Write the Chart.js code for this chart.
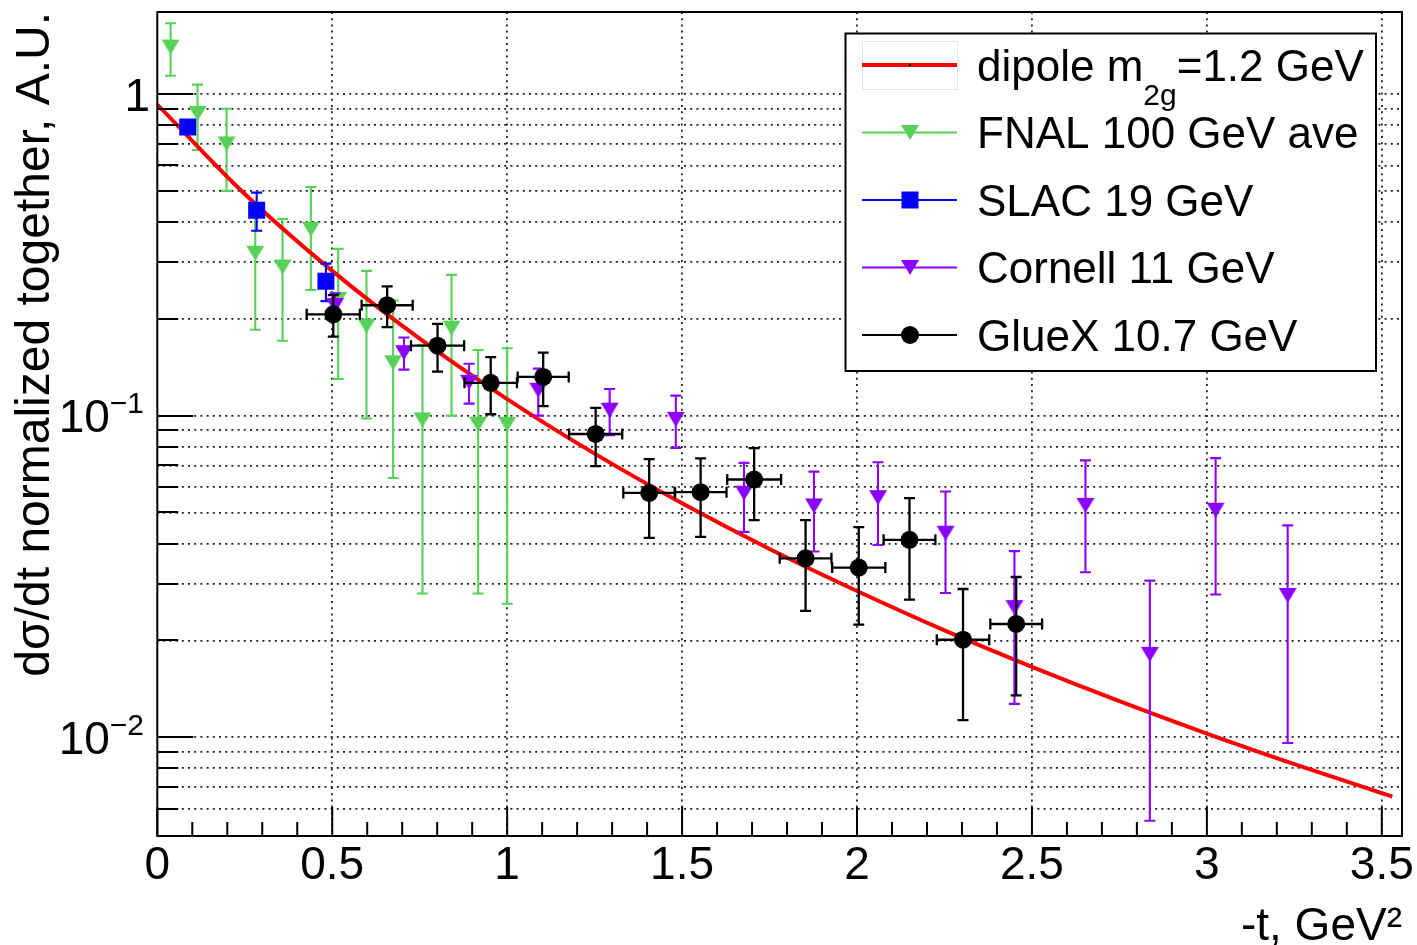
<!DOCTYPE html>
<html>
<head>
<meta charset="utf-8">
<title>d&sigma;/dt vs -t</title>
<script src="https://cdn.jsdelivr.net/npm/chart.js@4.4.1/dist/chart.umd.min.js"></script>
<style>
  html, body { margin: 0; padding: 0; background: #fff; }
  canvas { display: block; }
</style>
</head>
<body>
<canvas id="c" width="1417" height="945"></canvas>
<script>
// ---- dipole curve (m_2g = 1.2 GeV), sampled along -t ----
const dipoleT   = [0, 0.25, 0.5, 0.75, 1.0, 1.25, 1.5, 1.75, 2.0, 2.25, 2.5, 2.75, 3.0, 3.25, 3.5, 3.53];
const dipoleVal = [0.928, 0.489, 0.282, 0.1735, 0.1126, 0.0762, 0.0534, 0.0385, 0.0285, 0.0215, 0.01656, 0.01295, 0.01027, 0.00825, 0.0067, 0.00654];

// ---- FNAL 100 GeV (averaged) ----
const fnalT   = [0.038, 0.115, 0.198, 0.280, 0.358, 0.439, 0.517, 0.598, 0.674, 0.758, 0.841, 0.917, 1.000];
const fnalVal = [1.40, 0.87, 0.70, 0.32, 0.29, 0.38, 0.23, 0.19, 0.146, 0.097, 0.187, 0.094, 0.094];
const fnalErr = [0.26, 0.20, 0.20, 0.135, 0.119, 0.134, 0.10, 0.092, 0.082, 0.069, 0.087, 0.066, 0.068];

// ---- SLAC 19 GeV ----
const slacT   = [0.087, 0.284, 0.482];
const slacVal = [0.79, 0.435, 0.262];
const slacErr = [0.03, 0.059, 0.035];

// ---- Cornell 11 GeV ----
const cornellT   = [0.508, 0.705, 0.891, 1.089, 1.293, 1.482, 1.677, 1.877, 2.060, 2.253, 2.450, 2.653, 2.837, 3.025, 3.231];
const cornellVal = [0.22, 0.157, 0.127, 0.12, 0.104, 0.0974, 0.0574, 0.0524, 0.0556, 0.0431, 0.0253, 0.0526, 0.0181, 0.0508, 0.0276];
const cornellErr = [0.02, 0.018, 0.018, 0.02, 0.017, 0.018, 0.0139, 0.0146, 0.016, 0.015, 0.0126, 0.02, 0.0126, 0.023, 0.018];

// ---- GlueX 10.7 GeV ----
const gluexT    = [0.503, 0.657, 0.801, 0.953, 1.103, 1.253, 1.406, 1.553, 1.706, 1.853, 2.005, 2.150, 2.303, 2.455];
const gluexVal  = [0.2066, 0.2205, 0.165, 0.1265, 0.132, 0.0877, 0.0575, 0.0578, 0.0633, 0.036, 0.0337, 0.0411, 0.0201, 0.0225];
const gluexErr  = [0.0305, 0.032, 0.028, 0.0255, 0.025, 0.018, 0.0158, 0.0158, 0.016, 0.0113, 0.0113, 0.0143, 0.0088, 0.009];
const gluexTErr = [0.076, 0.073, 0.076, 0.075, 0.073, 0.076, 0.074, 0.074, 0.077, 0.074, 0.076, 0.074, 0.075, 0.074];

// ---- axis ticks and labels ----
const xMajor       = [0, 0.5, 1, 1.5, 2, 2.5, 3, 3.5];
const xMajorLabels = ['0', '0.5', '1', '1.5', '2', '2.5', '3', '3.5'];
const yMajor       = [1, 0.1, 0.01];
const yMajorBase   = ['1', '10', '10'];
const yMajorExp    = ['', '\u22121', '\u22122'];

// ---- legend text ----
const legendRows = [
  [{ t: 'dipole m' }, { t: '2g', sub: true }, { t: '=1.2 GeV' }],
  [{ t: 'FNAL 100 GeV ave' }],
  [{ t: 'SLAC 19 GeV' }],
  [{ t: 'Cornell 11 GeV' }],
  [{ t: 'GlueX 10.7 GeV' }]
];

const FAM = "'Liberation Sans', Arial, Helvetica, sans-serif";
const C_RED = '#ff0000', C_GREEN = '#57d157', C_BLUE = '#0000ff', C_VIOLET = '#8c00ff', C_BLACK = '#000000';

// minor x ticks every 0.1, minor y ticks at 2..9 x 10^k
const xTicksAll = [];
for (let i = 0; i <= 35; i++) xTicksAll.push(i / 10);
const Y_MIN = 0.00493, Y_MAX = 1.80;
const yTicksAll = [];
for (let k = -3; k <= 0; k++) {
  for (let m = 1; m <= 9; m++) {
    const v = +(m * Math.pow(10, k)).toPrecision(3);
    if (v > Y_MIN * 1.02 && v < Y_MAX) yTicksAll.push(v);
  }
}
const isHalf = v => Math.abs(v * 2 - Math.round(v * 2)) < 1e-9;
const isDecade = v => Math.abs(Math.log10(v) - Math.round(Math.log10(v))) < 1e-9;

// downward triangle marker, centred on its bounding box
function triDown(color, w, h) {
  const c = document.createElement('canvas');
  c.width = w + 2; c.height = h + 2;
  const g = c.getContext('2d');
  g.fillStyle = color;
  g.beginPath();
  g.moveTo(1, 1); g.lineTo(w + 1, 1); g.lineTo(w / 2 + 1, h + 1);
  g.closePath(); g.fill();
  return c;
}
const triGreen = triDown(C_GREEN, 18, 15);
const triViolet = triDown(C_VIOLET, 18, 15);

const pts = (xs, ys) => xs.map((x, i) => ({ x, y: ys[i] }));

const datasets = [
  { label: 'GlueX 10.7 GeV', data: pts(gluexT, gluexVal), yErr: gluexErr, xErr: gluexTErr,
    borderColor: C_BLACK, backgroundColor: C_BLACK, pointStyle: 'circle', pointRadius: 9,
    pointBorderWidth: 0, errWidth: 2.3, capHalf: 5.5 },
  { label: 'Cornell 11 GeV', data: pts(cornellT, cornellVal), yErr: cornellErr,
    borderColor: C_VIOLET, backgroundColor: C_VIOLET, pointStyle: triViolet, pointRadius: 9,
    errWidth: 2.1, capHalf: 5.5 },
  { label: 'SLAC 19 GeV', data: pts(slacT, slacVal), yErr: slacErr,
    borderColor: C_BLUE, backgroundColor: C_BLUE, pointStyle: 'rect', pointRadius: 12,
    pointBorderWidth: 0, errWidth: 2.1, capHalf: 5.5 },
  { label: 'dipole m2g=1.2 GeV', data: pts(dipoleT, dipoleVal), showLine: true,
    borderColor: C_RED, backgroundColor: C_RED, borderWidth: 4, pointRadius: 0,
    cubicInterpolationMode: 'monotone', fill: false },
  { label: 'FNAL 100 GeV ave', data: pts(fnalT, fnalVal), yErr: fnalErr,
    borderColor: C_GREEN, backgroundColor: C_GREEN, pointStyle: triGreen, pointRadius: 9,
    errWidth: 2.1, capHalf: 5.5 }
];

// error bars, drawn just beneath each dataset's own markers
const errorBars = {
  id: 'errorBars',
  beforeDatasetDraw(chart, args) {
    const ds = chart.data.datasets[args.index];
    if (!ds.yErr) return;
    const xs = chart.scales.x, ys = chart.scales.y, ctx = chart.ctx, a = chart.chartArea;
    ctx.save();
    ctx.beginPath();
    ctx.rect(a.left, a.top, a.right - a.left, a.bottom - a.top);
    ctx.clip();
    ctx.strokeStyle = ds.borderColor;
    ctx.lineWidth = ds.errWidth;
    const cap = ds.capHalf;
    ds.data.forEach((p, i) => {
      const px = xs.getPixelForValue(p.x), py = ys.getPixelForValue(p.y);
      const e = ds.yErr[i];
      const top = ys.getPixelForValue(p.y + e);
      const bot = ys.getPixelForValue(Math.max(p.y - e, 1e-6));
      ctx.beginPath();
      ctx.moveTo(px, top); ctx.lineTo(px, bot);
      ctx.moveTo(px - cap, top); ctx.lineTo(px + cap, top);
      ctx.moveTo(px - cap, bot); ctx.lineTo(px + cap, bot);
      if (ds.xErr) {
        const l = xs.getPixelForValue(p.x - ds.xErr[i]);
        const r = xs.getPixelForValue(p.x + ds.xErr[i]);
        ctx.moveTo(l, py); ctx.lineTo(r, py);
        ctx.moveTo(l, py - cap); ctx.lineTo(l, py + cap);
        ctx.moveTo(r, py - cap); ctx.lineTo(r, py + cap);
      }
      ctx.stroke();
    });
    ctx.restore();
  }
};

// frame, inward ticks, log-axis labels and the legend box
const frameAndLegend = {
  id: 'frameAndLegend',
  afterDraw(chart) {
    const ctx = chart.ctx, a = chart.chartArea, xs = chart.scales.x, ys = chart.scales.y;
    ctx.save();
    ctx.strokeStyle = '#000';
    ctx.lineWidth = 2;
    // ticks
    ctx.beginPath();
    yTicksAll.forEach(v => {
      const py = Math.round(ys.getPixelForValue(v));
      const len = isDecade(v) ? 36 : 21;
      ctx.moveTo(a.left, py); ctx.lineTo(a.left + len, py);
    });
    xTicksAll.forEach(v => {
      const px = xs.getPixelForValue(v);
      const len = isHalf(v) ? 29 : 14;
      ctx.moveTo(px, a.bottom); ctx.lineTo(px, a.bottom - len);
    });
    ctx.stroke();
    // frame
    ctx.strokeRect(a.left, a.top, a.right - a.left, a.bottom - a.top);

    // y labels: 1, 10^-1, 10^-2
    ctx.fillStyle = '#000';
    ctx.textBaseline = 'alphabetic';
    yMajor.forEach((v, i) => {
      const py = ys.getPixelForValue(v);
      const base = py + 16.5;
      if (!yMajorExp[i]) {
        ctx.font = `46px ${FAM}`;
        ctx.textAlign = 'right';
        ctx.fillText(yMajorBase[i], 150, base);
      } else {
        ctx.font = `30px ${FAM}`;
        ctx.textAlign = 'right';
        const expW = ctx.measureText(yMajorExp[i]).width;
        ctx.fillText(yMajorExp[i], 144, base - 19);
        ctx.font = `46px ${FAM}`;
        ctx.fillText(yMajorBase[i], 144 - expW, base);
      }
    });

    // legend
    const L = { x0: 845.5, y0: 33.5, x1: 1376, y1: 371 };
    ctx.fillStyle = '#fff';
    ctx.fillRect(L.x0, L.y0, L.x1 - L.x0, L.y1 - L.y0);
    ctx.lineWidth = 2;
    ctx.strokeStyle = '#000';
    ctx.strokeRect(L.x0, L.y0, L.x1 - L.x0, L.y1 - L.y0);

    const order = [3, 4, 2, 1, 0]; // dataset index for each legend row
    const symL = 862, symR = 957, symC = 910, textX = 977;
    legendRows.forEach((pieces, r) => {
      const ry = 65 + r * 67.5;
      const ds = datasets[order[r]];
      if (r === 0) {
        ctx.lineWidth = 1;
        ctx.strokeStyle = '#e6e6e6';
        ctx.strokeRect(symL + 0.5, ry - 23.5, symR - symL, 48);
      }
      ctx.strokeStyle = ds.borderColor;
      ctx.lineWidth = r === 0 ? 4 : 2;
      ctx.beginPath(); ctx.moveTo(symL, ry); ctx.lineTo(symR, ry); ctx.stroke();
      if (r === 0) {
        ctx.fillStyle = '#000';
        ctx.fillRect(symC - 1, ry - 1, 2, 2);
      } else if (ds.pointStyle === 'circle') {
        ctx.fillStyle = ds.backgroundColor;
        ctx.beginPath(); ctx.arc(symC, ry, 9, 0, Math.PI * 2); ctx.fill();
      } else if (ds.pointStyle === 'rect') {
        ctx.fillStyle = ds.backgroundColor;
        ctx.fillRect(symC - 8.5, ry - 8.5, 17, 17);
      } else {
        const img = ds.pointStyle;
        ctx.drawImage(img, symC - img.width / 2, ry - img.height / 2);
      }
      // text
      ctx.fillStyle = '#000';
      ctx.textAlign = 'left';
      ctx.textBaseline = 'alphabetic';
      let tx = textX;
      pieces.forEach(p => {
        if (p.sub) {
          ctx.font = `30px ${FAM}`;
          ctx.fillText(p.t, tx, ry + 40);
        } else {
          ctx.font = `44px ${FAM}`;
          ctx.fillText(p.t, tx, ry + 15.5);
        }
        tx += ctx.measureText(p.t).width;
      });
    });
    ctx.restore();
  }
};

new Chart(document.getElementById('c'), {
  type: 'scatter',
  data: { datasets },
  options: {
    responsive: false,
    animation: false,
    events: [],
    layout: { padding: { top: 6.5, right: 14.5, left: 0, bottom: 0 } },
    plugins: { legend: { display: false }, tooltip: { enabled: false } },
    scales: {
      x: {
        type: 'linear',
        min: 0,
        max: 3.5577,
        afterBuildTicks: s => { s.ticks = xTicksAll.map(v => ({ value: v })); },
        afterFit: s => { s.height = 109; },
        ticks: {
          autoSkip: false,
          maxRotation: 0,
          padding: 3,
          color: '#000',
          font: { family: FAM, size: 46 },
          callback: v => {
            const k = xMajor.findIndex(m => Math.abs(m - v) < 1e-9);
            return k >= 0 ? xMajorLabels[k] : '';
          }
        },
        grid: {
          drawTicks: false,
          lineWidth: 1.8,
          color: c => (c.tick && isHalf(c.tick.value) && c.tick.value > 0) ? '#222' : 'rgba(0,0,0,0)'
        },
        border: { display: false, dash: [2, 4.2] },
        title: {
          display: true,
          text: '-t, GeV\u00b2',
          align: 'end',
          color: '#000',
          font: { family: FAM, size: 46, lineHeight: 0.75 },
          padding: { top: 0, bottom: 0 }
        }
      },
      y: {
        type: 'logarithmic',
        min: Y_MIN,
        max: Y_MAX,
        afterBuildTicks: s => { s.ticks = yTicksAll.map(v => ({ value: v })); },
        afterFit: s => { s.width = 157.3; },
        ticks: { display: false },
        grid: { drawTicks: false, lineWidth: 1.8, color: '#222' },
        border: { display: false, dash: [2, 4.2] },
        title: {
          display: true,
          text: 'd\u03c3/dt normalized together, A.U.',
          align: 'end',
          color: '#000',
          font: { family: FAM, size: 48, lineHeight: 1 },
          padding: { top: 11.6, bottom: 0 }
        }
      }
    }
  },
  plugins: [errorBars, frameAndLegend]
});
</script>
</body>
</html>
